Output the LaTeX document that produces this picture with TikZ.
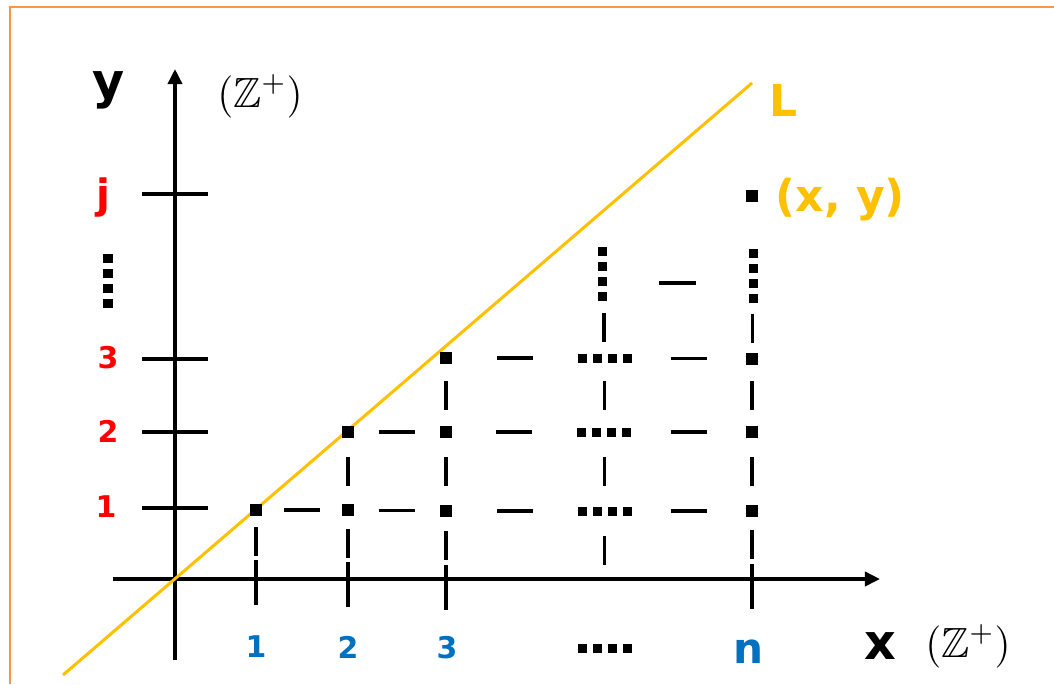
\documentclass[tikz,border=0pt]{standalone}
\usepackage{amssymb}
\usepackage{fontspec}
\newfontfamily\lblfont{DejaVu Sans}
\usetikzlibrary{arrows.meta}
\definecolor{lineyellow}{RGB}{255,192,0}
\definecolor{labelred}{RGB}{255,0,0}
\definecolor{labelblue}{RGB}{0,112,192}
\definecolor{frameorange}{RGB}{247,150,70}
\newcommand{\sqdots}{\rule{0.09cm}{0.09cm}\hspace{0.06cm}\rule{0.09cm}{0.09cm}\hspace{0.06cm}\rule{0.09cm}{0.09cm}\hspace{0.06cm}\rule{0.09cm}{0.09cm}}

\begin{document}
\begin{tikzpicture}[
  x=0.01cm, y=-0.01cm,
  axisline/.style={line width=0.035cm, -{Triangle[length=0.15cm,width=0.14cm]}},
  lline/.style={line width=0.03cm, lineyellow},
  frameline/.style={line width=0.02cm, frameorange},
  ptbox/.style={rectangle, fill=black, minimum size=0.115cm, inner sep=0pt},
  dotsrow/.style={inner sep=0pt},
  dotscol/.style={dotsrow, rotate=90},
  hdash/.style={rectangle, fill=black, minimum width=0.36cm,
                minimum height=0.035cm, inner sep=0pt},
  vdash/.style={rectangle, fill=black, minimum width=0.035cm,
                minimum height=0.29cm, inner sep=0pt},
  xtick/.style={rectangle, fill=black, minimum width=0.035cm,
                minimum height=0.45cm, inner sep=0pt},
  ytick/.style={rectangle, fill=black, minimum width=0.66cm,
                minimum height=0.035cm, inner sep=0pt},
  lbl/.style={inner sep=0pt, anchor=base},
  axlbl/.style={lbl, font=\lblfont\bfseries\fontsize{14}{16}\selectfont},
  setlbl/.style={lbl, font=\fontsize{12}{14}\selectfont},
  redlbl/.style={lbl, text=labelred, font=\lblfont\bfseries\fontsize{8.5}{10}\selectfont},
  bluelbl/.style={lbl, text=labelblue, font=\lblfont\bfseries\fontsize{8.5}{10}\selectfont},
  yellbl/.style={lbl, anchor=base west, text=lineyellow,
                 font=\lblfont\bfseries\fontsize{12.5}{14}\selectfont}
]
\useasboundingbox (0,0) rectangle (1054,684);
\draw[frameline] (10,684) -- (10,7) -- (1054,7);

% axes
\coordinate (yb) at (175,660);
\coordinate (ye) at (175,69);
\coordinate (xb) at (113,579);
\coordinate (xe) at (880,579);
\draw[axisline] (yb) -- (ye);
\draw[axisline] (xb) -- (xe);

% ticks
\node[ytick] (s1) at (175,508) {};
\node[ytick] (s2) at (175,432) {};
\node[ytick] (s3) at (175,359) {};
\node[ytick] (sj) at (175,194) {};
\node[xtick] (t1) at (256,582) {};
\node[xtick] (t2) at (348,584) {};
\node[xtick] (t3) at (446,587) {};
\node[xtick] (tn) at (752,586) {};
\coordinate (a4) at (604,579);

% line L
\coordinate (Lb) at (63,675);
\coordinate (Le) at (752,83);
\draw[lline] (Lb) -- (Le);

% lattice points
\node[ptbox] (p11) at (256,510) {};
\node[ptbox] (p21) at (348,510) {};
\node[ptbox] (p31) at (446,511) {};
\node[dotsrow] (d41) at (605,511) {\sqdots};
\node[ptbox] (pn1) at (752,511) {};
\node[ptbox] (p22) at (348,432) {};
\node[ptbox] (p32) at (446,432) {};
\node[dotsrow] (d42) at (604,432) {\sqdots};
\node[ptbox] (pn2) at (752,432) {};
\node[ptbox] (p33) at (446,358) {};
\node[dotsrow] (d43) at (605,358) {\sqdots};
\node[ptbox] (pn3) at (752,359) {};
\node[dotscol] (v4) at (602,274) {\sqdots};
\node[dotscol] (vn) at (753,276) {\sqdots};
\node[ptbox] (pxy) at (752,196) {};

% horizontal dashes
\path (p11) -- node[hdash] {} (p21);
\path (p21) -- node[hdash] {} (p31);
\path (p31) -- node[hdash] {} (d41);
\path (d41) -- node[hdash] {} (pn1);
\path (p22) -- node[hdash] {} (p32);
\path (p32) -- node[hdash] {} (d42);
\path (d42) -- node[hdash] {} (pn2);
\path (p33) -- node[hdash] {} (d43);
\path (d43) -- node[hdash] {} (pn3);
\path (v4) -- node[hdash, yshift=-0.08cm] {} (vn);

% vertical dashes
\path (p11) -- node[vdash, pos=.6] {} (t1);
\path (p22) -- node[vdash] {} (p21);
\path (p21) -- node[vdash, pos=.6] {} (t2);
\path (p33) -- node[vdash] {} (p32);
\path (p32) -- node[vdash] {} (p31);
\path (p31) -- node[vdash, pos=.6] {} (t3);
\path (v4) -- node[vdash] {} (d43);
\path (d43) -- node[vdash] {} (d42);
\path (d42) -- node[vdash] {} (d41);
\path (d41) -- node[vdash, pos=.55] {} (a4);
\path (vn) -- node[vdash] {} (pn3);
\path (pn3) -- node[vdash] {} (pn2);
\path (pn2) -- node[vdash] {} (pn1);
\path (pn1) -- node[vdash, pos=.6] {} (tn);

% labels
\node[axlbl] (ylab) at (109,98) {y};
\node[setlbl] (yset) at (260,107) {$(\mathbb{Z}^{+})$};
\node[axlbl] (xlab) at (880,659) {x};
\node[setlbl] (xset) at (968,657) {$(\mathbb{Z}^{+})$};
\node[yellbl] (Llab) at (769,116) {L};
\node[yellbl] (xylab) at (775,211) {(x, y)};
\node[redlbl, font=\lblfont\bfseries\fontsize{11.5}{13}\selectfont] (jlab) at (103,208) {j};
\node[dotscol] (vlab) at (108,281) {\sqdots};
\node[redlbl] (r3) at (108,368) {3};
\node[redlbl] (r2) at (108,442) {2};
\node[redlbl] (r1) at (106,517) {1};
\node[bluelbl] (b1) at (256,657) {1};
\node[bluelbl] (b2) at (348,658) {2};
\node[bluelbl] (b3) at (447,658) {3};
\node[dotsrow] (bdots) at (605,648) {\sqdots};
\node[bluelbl, font=\lblfont\bfseries\fontsize{12}{14}\selectfont] (bn) at (749,663) {n};
\end{tikzpicture}
\end{document}
